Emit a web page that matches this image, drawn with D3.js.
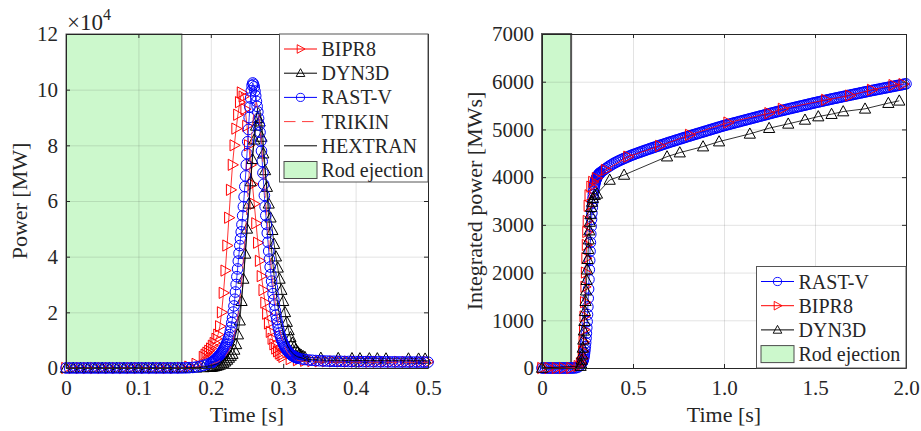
<!DOCTYPE html>
<html>
<head>
<meta charset = 'utf-8'>
<script src = 'https://d3js.org/d3.v7.min.js'></script>
<style>
body {margin: 0; background: #fff;}
text {font-family: 'Liberation Serif', 'Times New Roman', serif; fill: #262626;}
</style>
</head>
<body>
<div id="my_dataviz"></div>
<script>
function grid(start, n, step) {
  return d3.range(n).map(function(i) {return +(start + i * step).toFixed(4);});
}

// ---- left panel: power [MW] vs time [s]
var rastTimeL = grid(0, 40, 0.005).concat(grid(0.2, 120, 0.001), grid(0.32, 37, 0.005));
var rastPowerL = [0,0,0,0,0,0,0,0,0,0,0,0,0,0,0,0,0,0,0,0,0,0,0,0,0,0,0,0,0,0,0,0,20,40,100,200,350,600,950,1350,
  1800,1950,2120,2320,2500,2700,2930,3180,3440,3720,
  4000,4280,4560,4900,5250,5600,6000,6400,6850,7300,
  7800,8350,8900,9600,10300,11000,12000,13300,14700,16300,
  18000,20100,22300,24700,27300,30000,32800,35600,38400,41200,
  44000,46400,48900,51500,54700,58000,61500,65200,69000,73000,
  77000,81300,85700,90000,93800,97000,99600,101500,102400,101900,
  101000,99500,97800,95800,94000,92000,89700,87300,84700,81500,
  78000,74200,70100,66000,62000,58000,54800,51600,48500,45200,
  42000,39100,36300,33600,31200,29000,26700,24600,22600,20700,
  19000,17500,16200,14900,13700,12500,11600,10800,10100,9400,
  8800,8250,7750,7300,6900,6500,6150,5850,5550,5250,
  5000,4800,4600,4430,4260,4100,3980,3860,3740,3620,
  3500,3250,3050,2900,2780,2680,2600,2540,2490,2450,2420,2390,2370,2350,2330,2310,2300,2290,2280,2270,
  2260,2250,2240,2230,2220,2210,2200,2190,2180,2170,2160,2150,2140,2130,2120,2110,2100];

var bipTimeL = grid(0, 19, 0.01).concat(grid(0.19, 44, 0.0025), grid(0.3, 21, 0.01));
var bipPowerL = [0,0,0,0,0,0,0,0,0,0,0,0,0,0,0,0,100,500,1500,
  4000,4800,5500,6200,7000,8000,9000,10500,12000,15000,20000,27000,35000,44000,54000,64000,73000,80000,86000,91000,
  95500,99000,97500,93000,87000,80000,73000,66000,59000,52000,45000,38500,33000,28000,23500,19500,16000,13000,10500,8500,
  7000,6000,5200,4600,
  4000,3200,2800,2600,2500,2400,2400,2350,2350,2300,2300,2300,2250,2250,2250,2200,2200,2200,2200,2200,2200];

var dynTimeL = grid(0, 21, 0.01).concat(grid(0.2025, 52, 0.0025),
  [0.352,0.376,0.395,0.406,0.419,0.43,0.442,0.473,0.487,0.496]);
var dynPowerL = [0,0,0,0,0,0,0,0,0,0,0,0,0,0,0,0,0,50,100,200,300,
  400,550,700,900,1100,1400,1800,2300,2900,3600,4300,5000,6500,8500,12000,17000,24000,32000,41000,50000,
  59000,67000,75000,82000,87000,89800,88500,83000,77000,71000,65000,59000,54000,49500,44500,40000,36000,32000,28000,24000,
  20000,16500,13500,11000,9000,7600,6600,5800,5100,4600,4200,3900,
  3600,3500,3450,3400,3400,3400,3350,3350,3300,3300];

var trikTime = [0,0.16,0.18,0.2,0.21,0.22,0.225,0.23,0.235,0.2375,0.24,0.2425,0.245,0.2475,0.25,0.2525,0.255,0.2575,
  0.26,0.2625,0.265,0.2675,0.27,0.2725,0.275,0.2775,0.28,0.2825,0.285,0.2875,0.29,0.2925,0.295,0.3,0.305,0.31,0.315,
  0.32,0.33,0.35,0.4,0.45,0.5];
var trikPower = [0,0,300,1200,2200,4200,6200,9500,15000,19000,24500,31000,39000,48000,58000,68000,78000,87000,
  93000,95500,93500,88000,80500,72000,63000,54500,46500,39000,32500,26500,21500,17500,14000,9000,6000,4300,3300,
  2700,2300,2100,2050,2000,2000];

var hexTime = [0,0.16,0.18,0.2,0.21,0.22,0.225,0.23,0.235,0.24,0.2425,0.245,0.2475,0.25,0.2525,0.255,0.2575,0.26,
  0.2625,0.265,0.2675,0.27,0.2725,0.275,0.2775,0.28,0.2825,0.285,0.2875,0.29,0.2925,0.295,0.3,0.305,0.31,0.315,
  0.32,0.33,0.34,0.36,0.4,0.45,0.5];
var hexPower = [0,0,200,800,1600,3200,4800,7500,12500,20000,25500,32000,40000,49000,58000,67000,76000,84000,
  90000,93500,93000,88500,81000,72000,63000,54500,46500,39500,33000,27500,22500,18500,12500,8500,6200,4800,
  4000,3300,3000,2800,2700,2650,2600];

// ---- right panel: integrated power [MWs] vs time [s]
var rastTimeR = grid(0, 22, 0.01).concat(grid(0.22, 50, 0.002), grid(0.32, 169, 0.01));
var rastEnergyR = [0,0,0,0,0,0,0,0,0,0,0,0,0,0,0,0,0,1,3,8,25,55,
  110,127,146,168,195,227,268,318,379,450,
  531,624,728,845,973,1119,1283,1463,1655,1856,
  2059,2255,2446,2629,2803,2967,3115,3245,3362,3466,
  3558,3635,3702,3760,3811,3853,3888,3917,3943,3965,
  3984,4000,4015,4028,4040,4050,4060,4069,4077,4085,
  4092,4122,4150,4178,4205,4230,4255,4278,
  4300,4319,4338,4356,4373,4390,4407,4423,4439,4455,
  4470,4484,4498,4512,4525,4539,4552,4566,4579,4592,
  4605,4618,4630,4643,4655,4668,4680,4693,4705,4718,
  4730,4742,4754,4766,4778,4790,4802,4814,4826,4838,
  4850,4862,4873,4885,4896,4908,4919,4931,4942,4954,
  4965,4977,4988,5000,5011,5023,5034,5046,5057,5069,
  5080,5090,5100,5110,5120,5130,5140,5150,5160,5170,
  5180,5190,5200,5210,5220,5230,5240,5250,5260,5270,
  5280,5290,5300,5310,5320,5330,5340,5350,5360,5370,
  5380,5389,5398,5407,5416,5425,5434,5443,5452,5461,
  5470,5479,5488,5497,5506,5515,5524,5533,5542,5551,
  5560,5569,5577,5586,5594,5603,5611,5620,5628,5637,
  5645,5653,5661,5669,5677,5685,5693,5701,5709,5717,
  5725,5733,5741,5749,5757,5765,5773,5781,5789,5797,
  5805,5813,5820,5828,5835,5843,5850,5858,5865,5873,
  5880,5888,5895,5903,5910,5918,5925,5933,5940,5948,
  5955];

var bipTimeR = [0,0.04,0.08,0.12,0.16,0.2,0.2125,0.2225,0.225,0.2275,0.23,0.2325,0.235,0.2375,0.24,0.2425,0.245,
  0.2475,0.25,0.255,0.26,0.27,0.28,0.3,0.35,0.473,0.647,0.812,1.023,1.248,1.322,1.56,1.692,1.812,1.93,1.985];
var bipEnergyR = [0,0,0,0,0,40,100,200,350,550,800,1080,1380,1700,2000,2300,2580,
  2850,3080,3400,3620,3800,3900,3980,4151,4430,4655,4886,5144,5341,5432,5620,5711,5830,5929,5950];

var dynTimeR = [0,0.212,0.215,0.218,0.221,0.224,0.227,0.23,0.233,0.236,0.239,0.242,0.245,0.248,0.251,0.254,
  0.257,0.26,0.263,0.266,0.27,0.275,0.28,0.29,0.302,0.372,0.451,0.687,0.757,0.885,0.973,1.142,1.248,1.353,
  1.445,1.518,1.591,1.655,1.775,1.903,1.963];
var dynEnergyR = [0,40,90,170,280,420,590,780,980,1190,1400,1620,1840,2060,2280,2490,
  2690,2880,3060,3220,3370,3480,3560,3620,3650,3941,4046,4430,4514,4640,4745,4907,5026,5117,
  5200,5270,5320,5375,5432,5551,5600];

var ejectEnd = 0.16;
var xTicksL = [0, 0.1, 0.2, 0.3, 0.4, 0.5];
var yTicksL = [0, 20000, 40000, 60000, 80000, 100000, 120000];
var xTicksR = [0, 0.5, 1.0, 1.5, 2.0];
var yTicksR = [0, 1000, 2000, 3000, 4000, 5000, 6000, 7000];
var legendL = ['BIPR8', 'DYN3D', 'RAST-V', 'TRIKIN', 'HEXTRAN', 'Rod ejection'];
var legendR = ['RAST-V', 'BIPR8', 'DYN3D', 'Rod ejection'];

var svg = d3.select('#my_dataviz')
.append('svg')
.attr('width', 921)
.attr('height', 431);

var markerPath = {
  circle: d3.symbol().type(d3.symbolCircle).size(Math.PI * 5.3 * 5.3)(),
  up: 'M0,-5.9L5.6,4.3L-5.6,4.3Z',
  right: 'M5.9,0L-4.3,5.6L-4.3,-5.6Z'
};

var styles = {
  'BIPR8': {color: '#ff0000', marker: 'right'},
  'DYN3D': {color: '#000000', marker: 'up'},
  'RAST-V': {color: '#0000ff', marker: 'circle'},
  'TRIKIN': {color: '#ff3b3b', dash: '11.5,6.5'},
  'HEXTRAN': {color: '#000000'}
};

function makePanel(box, xDomain, yDomain, xTicks, yTicks, xFmt, yFmt, yLabel, yLabelX, edgeW) {
  var x = d3.scaleLinear().domain(xDomain).range([box.left, box.right]);
  var y = d3.scaleLinear().domain(yDomain).range([box.bottom, box.top]);
  var g = svg.append('g');

  // rod ejection window
  g.append('rect')
  .attr('x', x(0)).attr('y', box.top)
  .attr('width', x(ejectEnd) - x(0)).attr('height', box.bottom - box.top)
  .style('fill', '#ccf8cc').style('stroke', '#555').style('stroke-width', edgeW);

  var gx = g.append('g').attr('transform', 'translate(0,' + box.bottom + ')')
  .call(d3.axisBottom(x).tickValues(xTicks).tickFormat('').tickSize(-(box.bottom - box.top)).tickSizeOuter(0));
  var gy = g.append('g').attr('transform', 'translate(' + box.left + ',0)')
  .call(d3.axisLeft(y).tickValues(yTicks).tickFormat('').tickSize(-(box.right - box.left)).tickSizeOuter(0));
  [gx, gy].forEach(function(a) {
    a.select('.domain').remove();
    a.selectAll('line').style('stroke', '#262626').style('stroke-opacity', 0.13);
  });

  var p = {x: x, y: y, g: g, box: box};
  p.finish = function() {
    var axes = [
      g.append('g').attr('transform', 'translate(0,' + box.bottom + ')')
        .call(d3.axisBottom(x).tickValues(xTicks).tickFormat(xFmt).tickSize(-4).tickSizeOuter(0).tickPadding(12)),
      g.append('g').attr('transform', 'translate(0,' + box.top + ')')
        .call(d3.axisTop(x).tickValues(xTicks).tickFormat('').tickSize(-4).tickSizeOuter(0)),
      g.append('g').attr('transform', 'translate(' + box.left + ',0)')
        .call(d3.axisLeft(y).tickValues(yTicks).tickFormat(yFmt).tickSize(-4).tickSizeOuter(0).tickPadding(8)),
      g.append('g').attr('transform', 'translate(' + box.right + ',0)')
        .call(d3.axisRight(y).tickValues(yTicks).tickFormat('').tickSize(-4).tickSizeOuter(0))
    ];
    axes.forEach(function(a) {
      a.attr('font-family', null).attr('font-size', null);
      a.selectAll('.domain, line').style('stroke', '#262626').style('stroke-width', 1);
      a.selectAll('text').style('font-size', '21px');
    });
    g.append('text')
    .attr('x', (box.left + box.right) / 2).attr('y', 422)
    .attr('text-anchor', 'middle').style('font-size', '22px')
    .text('Time [s]');
    g.append('text')
    .attr('transform', 'translate(' + yLabelX + ',' + (box.top + box.bottom) / 2 + ') rotate(-90)')
    .attr('text-anchor', 'middle').style('font-size', '22px')
    .text(yLabel);
  };
  return p;
}

function addSeries(p, name, xs, ys) {
  var st = styles[name];
  var pts = d3.zip(xs, ys);
  var line = d3.line()
  .x(function(d) {return p.x(d[0]);})
  .y(function(d) {return p.y(d[1]);});
  p.g.append('path').datum(pts)
  .attr('d', line)
  .style('fill', 'none').style('stroke', st.color).style('stroke-width', 0.8)
  .style('stroke-dasharray', st.dash || null);
  if (st.marker) {
    p.g.append('g').selectAll('path')
    .data(pts)
    .enter()
    .append('path')
    .attr('d', markerPath[st.marker])
    .attr('transform', function(d) {return 'translate(' + p.x(d[0]) + ',' + p.y(d[1]) + ')';})
    .style('fill', 'none').style('stroke', st.color).style('stroke-width', 1);
  }
}

function addLegend(p, names, lx, ly, lw, lh) {
  var g = p.g.append('g');
  g.append('rect')
  .attr('x', lx).attr('y', ly).attr('width', lw).attr('height', lh)
  .style('fill', '#fff').style('stroke', '#555').style('stroke-width', 1);
  names.forEach(function(name, i) {
    var cy = ly + 15 + i * 24.2;
    if (name === 'Rod ejection') {
      g.append('rect')
      .attr('x', lx + 4.5).attr('y', cy - 8.5).attr('width', 33).attr('height', 17)
      .style('fill', '#ccf8cc').style('stroke', '#4d4d4d').style('stroke-width', 1);
    } else {
      var st = styles[name];
      g.append('line')
      .attr('x1', lx + 4.5).attr('x2', lx + 37.5).attr('y1', cy).attr('y2', cy)
      .style('stroke', st.color).style('stroke-width', 1)
      .style('stroke-dasharray', st.dash || null);
      if (st.marker) {
        g.append('path')
        .attr('d', markerPath[st.marker])
        .attr('transform', 'translate(' + (lx + 21) + ',' + cy + ') scale(0.77)')
        .style('fill', 'none').style('stroke', st.color).style('stroke-width', 1.2);
      }
    }
    g.append('text')
    .attr('x', lx + 42).attr('y', cy + 7)
    .style('font-size', '20px')
    .text(name);
  });
}

// left chart
var left = makePanel({left: 66, right: 428, top: 34, bottom: 368}, [0, 0.5], [0, 120000],
  xTicksL, yTicksL, function(d) {return d === 0 ? '0' : d3.format('.1f')(d);},
  function(d) {return d / 10000;}, 'Power [MW]', 26.5, 1);
addSeries(left, 'BIPR8', bipTimeL, bipPowerL);
addSeries(left, 'DYN3D', dynTimeL, dynPowerL);
addSeries(left, 'RAST-V', rastTimeL, rastPowerL);
addSeries(left, 'TRIKIN', trikTime, trikPower);
addSeries(left, 'HEXTRAN', hexTime, hexPower);
left.finish();
addLegend(left, legendL, 279.5, 34, 148.5, 148);

var expo = svg.append('text').attr('x', 67).attr('y', 30).style('font-size', '23px');
expo.append('tspan').text('\u00d710');
expo.append('tspan').attr('dy', -10).style('font-size', '16px').text('4');

// right chart
var right = makePanel({left: 542, right: 906, top: 34, bottom: 368}, [0, 2], [0, 7000],
  xTicksR, yTicksR, function(d) {return d === 0 ? '0' : d3.format('.1f')(d);},
  function(d) {return d;}, 'Integrated power [MWs]', 481.5, 2);
addSeries(right, 'RAST-V', rastTimeR, rastEnergyR);
addSeries(right, 'BIPR8', bipTimeR, bipEnergyR);
addSeries(right, 'DYN3D', dynTimeR, dynEnergyR);
right.finish();
addLegend(right, legendR, 756.5, 266.5, 149.5, 101.5);
</script>
</body>
</html>
